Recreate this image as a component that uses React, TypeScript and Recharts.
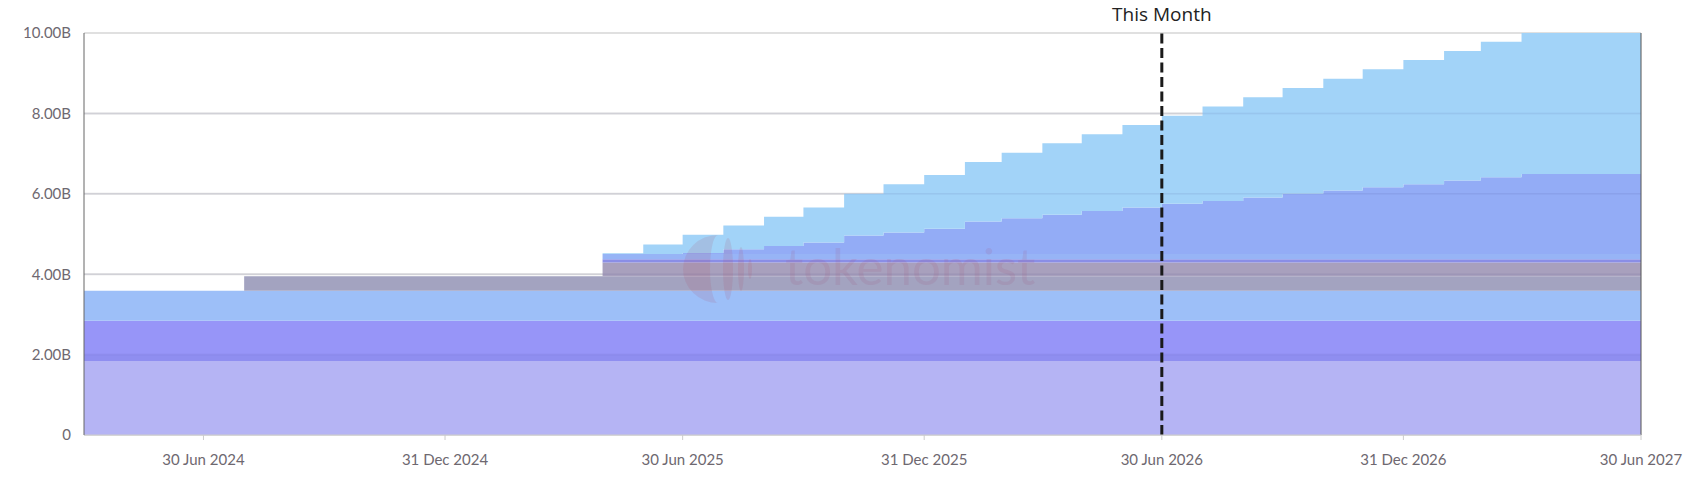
import React from "react";
import { ComposedChart, Area, XAxis, YAxis, CartesianGrid, ReferenceLine } from "recharts";

// month-end dates (each value holds until the next date)
const dates = [
  "2024-03-31", "2024-04-30", "2024-05-31", "2024-06-30", "2024-07-31", "2024-08-31",
  "2024-09-30", "2024-10-31", "2024-11-30", "2024-12-31", "2025-01-31", "2025-02-28",
  "2025-03-31", "2025-04-30", "2025-05-31", "2025-06-30", "2025-07-31", "2025-08-31",
  "2025-09-30", "2025-10-31", "2025-11-30", "2025-12-31", "2026-01-31", "2026-02-28",
  "2026-03-31", "2026-04-30", "2026-05-31", "2026-06-30", "2026-07-31", "2026-08-31",
  "2026-09-30", "2026-10-31", "2026-11-30", "2026-12-31", "2027-01-31", "2027-02-28",
  "2027-03-31", "2027-04-30", "2027-05-31", "2027-06-30",
];

// values in billions, stacked bottom to top
const s1 = [1.84, 1.84, 1.84, 1.84, 1.84, 1.84, 1.84, 1.84, 1.84, 1.84, 1.84, 1.84, 1.84, 1.84, 1.84, 1.84, 1.84, 1.84, 1.84, 1.84, 1.84, 1.84, 1.84, 1.84, 1.84, 1.84, 1.84, 1.84, 1.84, 1.84, 1.84, 1.84, 1.84, 1.84, 1.84, 1.84, 1.84, 1.84, 1.84, 1.84];
const s2 = [0.15, 0.15, 0.15, 0.15, 0.15, 0.15, 0.15, 0.15, 0.15, 0.15, 0.15, 0.15, 0.15, 0.15, 0.15, 0.15, 0.15, 0.15, 0.15, 0.15, 0.15, 0.15, 0.15, 0.15, 0.15, 0.15, 0.15, 0.15, 0.15, 0.15, 0.15, 0.15, 0.15, 0.15, 0.15, 0.15, 0.15, 0.15, 0.15, 0.15];
const s3 = [0.85, 0.85, 0.85, 0.85, 0.85, 0.85, 0.85, 0.85, 0.85, 0.85, 0.85, 0.85, 0.85, 0.85, 0.85, 0.85, 0.85, 0.85, 0.85, 0.85, 0.85, 0.85, 0.85, 0.85, 0.85, 0.85, 0.85, 0.85, 0.85, 0.85, 0.85, 0.85, 0.85, 0.85, 0.85, 0.85, 0.85, 0.85, 0.85, 0.85];
const s4 = [0.75, 0.75, 0.75, 0.75, 0.75, 0.75, 0.75, 0.75, 0.75, 0.75, 0.75, 0.75, 0.75, 0.75, 0.75, 0.75, 0.75, 0.75, 0.75, 0.75, 0.75, 0.75, 0.75, 0.75, 0.75, 0.75, 0.75, 0.75, 0.75, 0.75, 0.75, 0.75, 0.75, 0.75, 0.75, 0.75, 0.75, 0.75, 0.75, 0.75];
const s5 = [0, 0, 0, 0, 0.36, 0.36, 0.36, 0.36, 0.36, 0.36, 0.36, 0.36, 0.36, 0.36, 0.36, 0.36, 0.36, 0.36, 0.36, 0.36, 0.36, 0.36, 0.36, 0.36, 0.36, 0.36, 0.36, 0.36, 0.36, 0.36, 0.36, 0.36, 0.36, 0.36, 0.36, 0.36, 0.36, 0.36, 0.36, 0.36];
const s6 = [0, 0, 0, 0, 0, 0, 0, 0, 0, 0, 0, 0, 0, 0.34, 0.34, 0.34, 0.34, 0.34, 0.34, 0.34, 0.34, 0.34, 0.34, 0.34, 0.34, 0.34, 0.34, 0.34, 0.34, 0.34, 0.34, 0.34, 0.34, 0.34, 0.34, 0.34, 0.34, 0.34, 0.34, 0.34];
const s7 = [0, 0, 0, 0, 0, 0, 0, 0, 0, 0, 0, 0, 0, 0.08, 0.08, 0.08, 0.08, 0.08, 0.08, 0.08, 0.08, 0.08, 0.08, 0.08, 0.08, 0.08, 0.08, 0.08, 0.08, 0.08, 0.08, 0.08, 0.08, 0.08, 0.08, 0.08, 0.08, 0.08, 0.08, 0.08];
const s8 = [0, 0, 0, 0, 0, 0, 0, 0, 0, 0, 0, 0, 0, 0.13, 0.13, 0.13, 0.13, 0.13, 0.13, 0.13, 0.13, 0.13, 0.13, 0.13, 0.13, 0.13, 0.13, 0.13, 0.13, 0.13, 0.13, 0.13, 0.13, 0.13, 0.13, 0.13, 0.13, 0.13, 0.13, 0.13];
const s9 = [0, 0, 0, 0, 0, 0, 0, 0, 0, 0, 0, 0, 0, 0, 0, 0.03, 0.12, 0.2, 0.29, 0.46, 0.54, 0.63, 0.81, 0.89, 0.98, 1.07, 1.16, 1.25, 1.32, 1.41, 1.5, 1.58, 1.66, 1.74, 1.83, 1.91, 1.99, 1.99, 1.99, 1.99];
const s10 = [0, 0, 0, 0, 0, 0, 0, 0, 0, 0, 0, 0, 0, 0.02, 0.24, 0.45, 0.59, 0.73, 0.87, 1.04, 1.2, 1.34, 1.48, 1.63, 1.78, 1.91, 2.05, 2.19, 2.35, 2.49, 2.63, 2.78, 2.94, 3.09, 3.22, 3.37, 3.51, 3.51, 3.51, 3.51];

const seriesValues = [s1, s2, s3, s4, s5, s6, s7, s8, s9, s10];
const seriesColors = [
  "#b5b4f4", "#8f8ef0", "#9795f8", "#9dbff8", "#a3a3c0",
  "#a8a0bd", "#8a8ee6", "#97b4f6", "#93acf6", "#a2d3f8",
];

const xTickDates = ["2024-06-30", "2024-12-31", "2025-06-30", "2025-12-31", "2026-06-30", "2026-12-31", "2027-06-30"];
const yTicks = [0, 2, 4, 6, 8, 10];
const thisMonthDate = "2026-06-30";
const monthNames = ["Jan", "Feb", "Mar", "Apr", "May", "Jun", "Jul", "Aug", "Sep", "Oct", "Nov", "Dec"];

const toTs = (d: string) => Date.parse(d + "T00:00:00Z");

const data = dates.map((d, i) => {
  const row: Record<string, number> = { t: toTs(d) };
  seriesValues.forEach((s, k) => {
    row["s" + (k + 1)] = s[i];
  });
  return row;
});

const xTicks = xTickDates.map(toTs);
const domainStart = toTs(dates[0]);
const domainEnd = toTs(dates[dates.length - 1]);

const fmtDate = (v: number) => {
  const d = new Date(v);
  return `${d.getUTCDate()} ${monthNames[d.getUTCMonth()]} ${d.getUTCFullYear()}`;
};
const fmtY = (v: number) => (v === 0 ? "0" : v.toFixed(2) + "B");

const tickStyle = { fill: "#6e6870", fontSize: 15, fontFamily: "Lato, sans-serif" };

export default function App() {
  return (
    <div style={{ position: "relative", width: 1688, height: 478, marginTop: -8 }}>
      <ComposedChart
        width={1688}
        height={478}
        data={data}
        margin={{ top: 33, right: 55, bottom: 13, left: 16 }}
      >
        <CartesianGrid vertical={false} stroke="#e0e0e0" strokeWidth={2} />
        <XAxis
          dataKey="t"
          type="number"
          domain={[domainStart, domainEnd]}
          ticks={xTicks}
          tickFormatter={fmtDate}
          height={30}
          tickSize={5}
          tickMargin={14}
          stroke="#cccccc"
          tick={tickStyle}
          allowDataOverflow
        />
        <YAxis
          type="number"
          domain={[0, 10]}
          ticks={yTicks}
          tickFormatter={fmtY}
          width={60}
          tickLine={false}
          tickSize={0}
          tickMargin={13}
          axisLine={{ stroke: "#666" }}
          tick={tickStyle}
        />
        {seriesValues.map((_, k) => (
          <Area
            key={k}
            dataKey={"s" + (k + 1)}
            stackId="1"
            type="stepAfter"
            stroke="none"
            fill={seriesColors[k]}
            fillOpacity={1}
            isAnimationActive={false}
            dot={false}
            activeDot={false}
          />
        ))}
        {[2, 4, 6, 8].map((y) => (
          <ReferenceLine key={y} y={y} stroke="rgba(40,40,110,0.08)" strokeWidth={1.5} />
        ))}
        <ReferenceLine x={domainEnd} stroke="#555" strokeWidth={1} />
        <ReferenceLine
          x={toTs(thisMonthDate)}
          stroke="#1a1a1a"
          strokeWidth={3}
          strokeDasharray="10 4.5"
          label={{
            value: "This Month",
            position: "top",
            fill: "#222",
            fontSize: 19,
            fontFamily: "'Open Sans', sans-serif",
            offset: 12,
          }}
        />
      </ComposedChart>
      <svg
        width={1688}
        height={478}
        style={{ position: "absolute", left: 0, top: 0, pointerEvents: "none" }}
      >
        <g fill="rgba(175,80,110,0.15)">
          <path d="M 710 235 A 35 34 0 0 0 710 303 A 8 34 0 0 1 710 235 Z" />
          <ellipse cx="720" cy="269" rx="5" ry="31" />
          <ellipse cx="733" cy="269" rx="3" ry="22" />
          <ellipse cx="742" cy="269" rx="2" ry="10" />
        </g>
        <text
          x={777}
          y={285}
          fontSize={51}
          fontFamily="Lato, sans-serif"
          fill="rgba(160,85,125,0.15)"
        >
          tokenomist
        </text>
      </svg>
    </div>
  );
}
